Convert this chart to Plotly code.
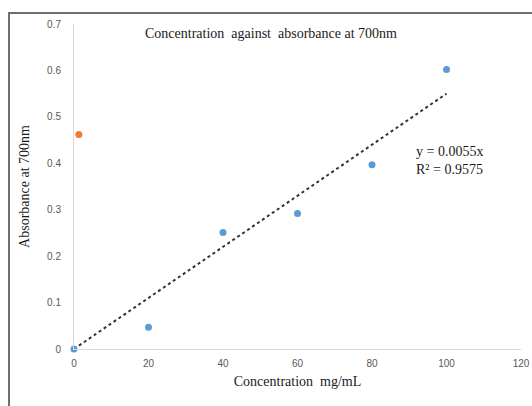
import plotly.graph_objects as go

concentration = [0, 20, 40, 60, 80, 100]
absorbance = [0.0, 0.047, 0.251, 0.292, 0.397, 0.602]
outlier_x = [1.3]
outlier_y = [0.462]
trend_slope = 0.0055
trend_r2 = 0.9575
x_ticks = [0, 20, 40, 60, 80, 100, 120]
y_ticks = [0, 0.1, 0.2, 0.3, 0.4, 0.5, 0.6, 0.7]
y_tick_labels = ["0", "0.1", "0.2", "0.3", "0.4", "0.5", "0.6", "0.7"]

fig = go.Figure()
trend_x = [min(concentration), max(concentration)]
trend_y = [trend_slope * v for v in trend_x]
fig.add_trace(go.Scatter(x=trend_x, y=trend_y, mode="lines",
                         line=dict(color="#333333", width=2, dash="dot"),
                         showlegend=False, cliponaxis=False))
fig.add_trace(go.Scatter(x=concentration, y=absorbance, mode="markers",
                         marker=dict(color="#5B9BD5", size=7),
                         showlegend=False, cliponaxis=False))
fig.add_trace(go.Scatter(x=outlier_x, y=outlier_y, mode="markers",
                         marker=dict(color="#ED7D31", size=7),
                         showlegend=False, cliponaxis=False))

serif = "Liberation Serif, Times New Roman, serif"
sans = "Liberation Sans, Arial, sans-serif"

W, H = 532, 406

fig.update_layout(
    width=W, height=H,
    margin=dict(l=74, r=11, t=24, b=57, autoexpand=False),
    paper_bgcolor="white", plot_bgcolor="white",
    title=dict(text="Concentration  against  absorbance at 700nm",
               x=271 / W, xanchor="center", y=1 - 33 / H, yanchor="middle",
               font=dict(family=serif, size=14, color="#1a1a1a"), automargin=False),
    xaxis=dict(range=[0, 120], tickvals=x_ticks, showgrid=False, zeroline=False,
               showline=True, linecolor="#d9d9d9", linewidth=1, automargin=False,
               ticks="", ticklabelstandoff=5,
               tickfont=dict(family=sans, size=10, color="#595959"),
               title=dict(text="Concentration  mg/mL", standoff=8,
                          font=dict(family=serif, size=14, color="#1a1a1a"))),
    yaxis=dict(range=[0, 0.7], tickvals=y_ticks, ticktext=y_tick_labels,
               showgrid=False, zeroline=False, automargin=False,
               showline=True, linecolor="#d9d9d9", linewidth=1,
               ticks="", ticklabelstandoff=10,
               tickfont=dict(family=sans, size=10, color="#595959"),
               title=dict(text="Absorbance at 700nm", standoff=14,
                          font=dict(family=serif, size=14, color="#1a1a1a"))),
    shapes=[dict(type="rect", xref="paper", yref="paper",
                 x0=(9 - 74) / 447, x1=1.1, y0=-0.3, y1=(349 - 13) / 325,
                 line=dict(color="#6e6e6e", width=2), layer="below")],
    annotations=[dict(text=f"y = {trend_slope}x<br>R² = {trend_r2}",
                      xref="x", yref="y", x=91.2, y=0.407, xanchor="left", yanchor="middle",
                      showarrow=False, align="left",
                      font=dict(family=serif, size=14, color="#1a1a1a"))],
)

fig.write_html("out.html", config={"displayModeBar": False},
               post_script="document.body.style.margin='0';document.body.style.overflow='hidden';")
